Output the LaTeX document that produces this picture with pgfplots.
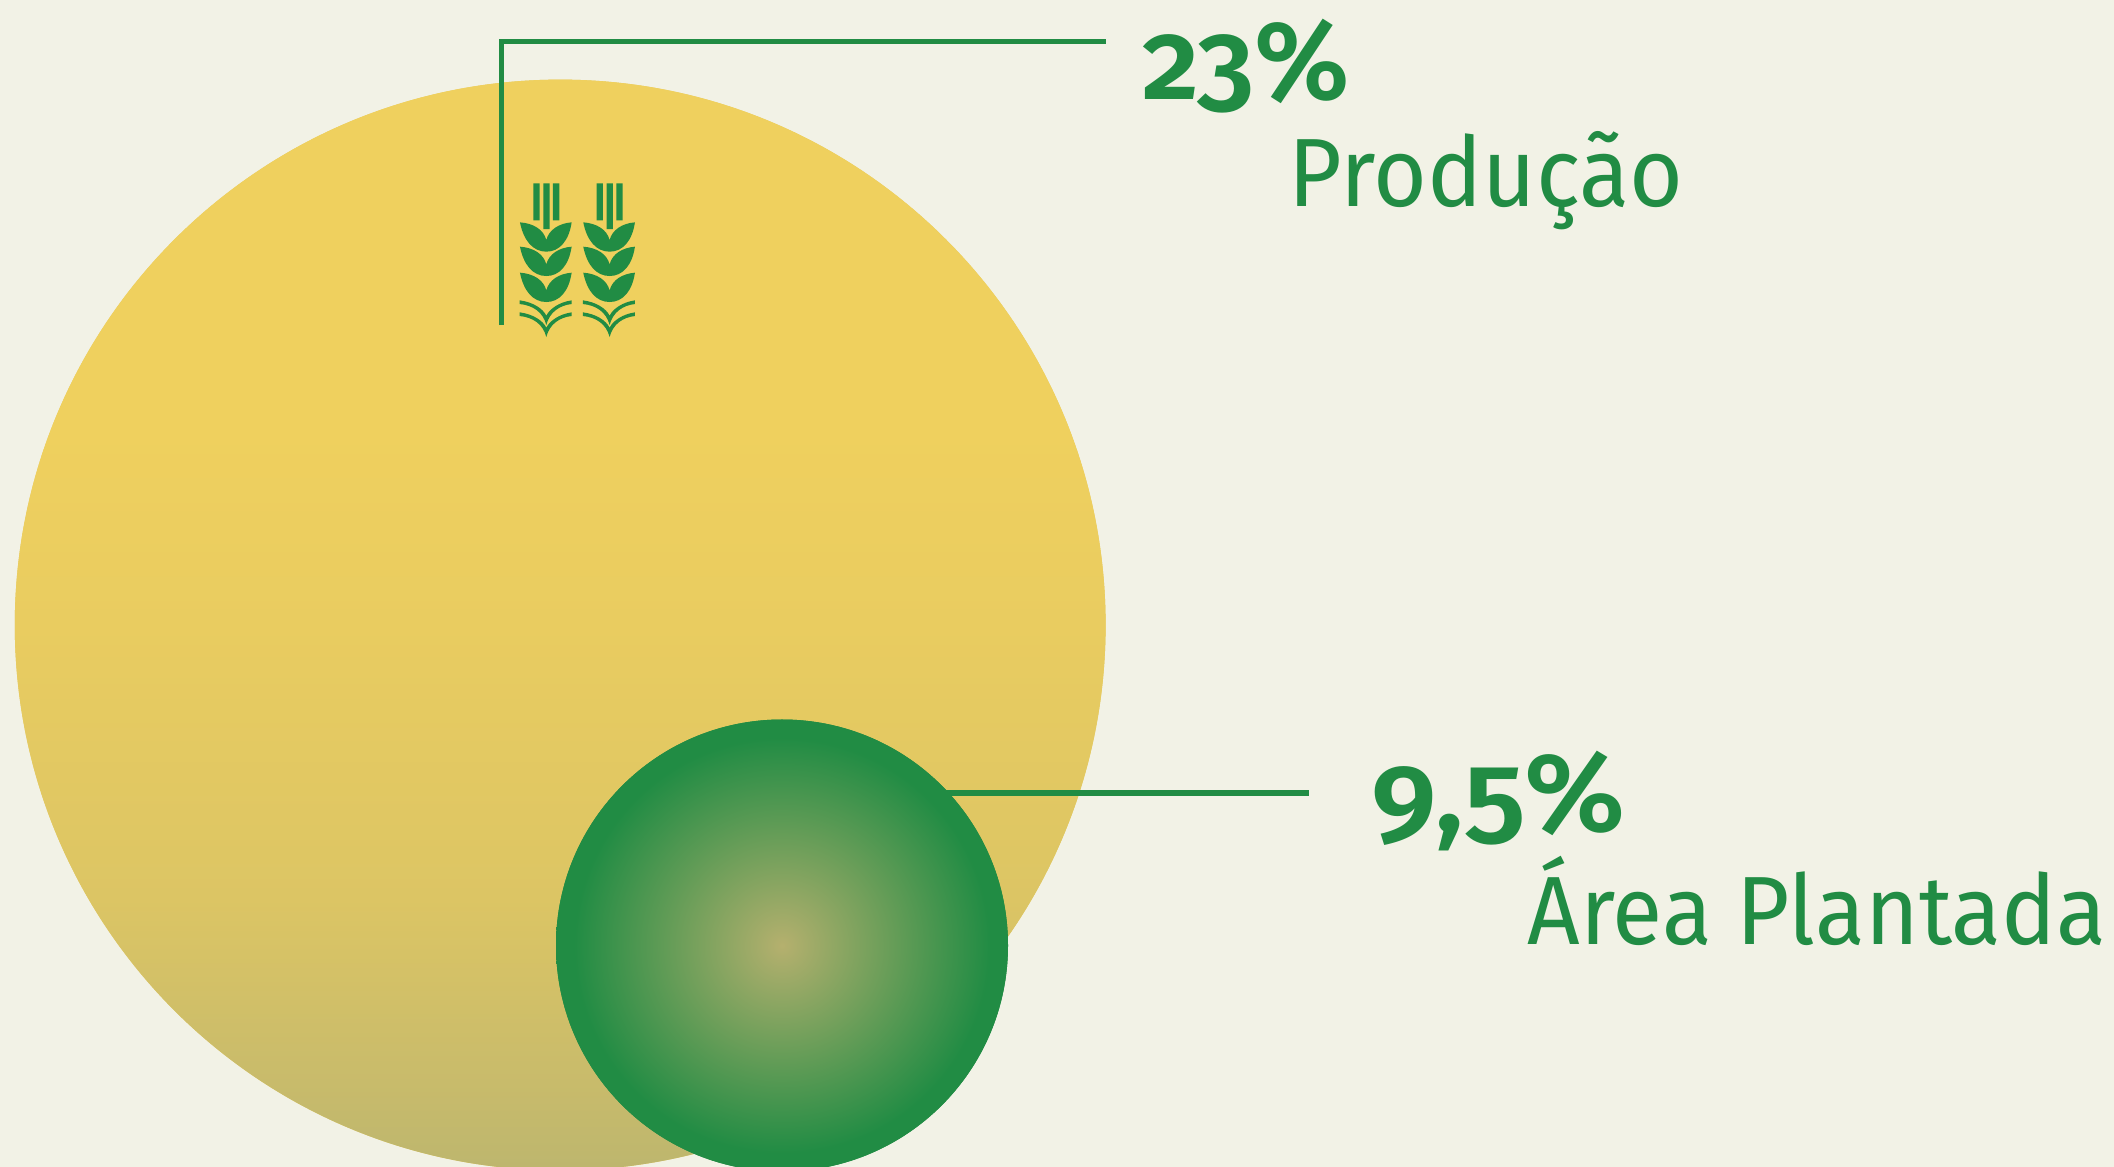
\documentclass[border=0pt]{standalone}
\usepackage{graphicx}
\usepackage{fontspec}
\setmainfont[Numbers=OldStyle]{Fira Sans}
\newfontface\semibold[Numbers=OldStyle]{Fira Sans SemiBold}
\usepackage{pgfplots}
\pgfplotsset{compat=1.18}

\definecolor{bg}{HTML}{F2F2E6}
\definecolor{verde}{HTML}{218C44}
\definecolor{am0}{RGB}{189,182,110}
\definecolor{am1}{RGB}{200,187,107}
\definecolor{am2}{RGB}{220,197,100}
\definecolor{am3}{RGB}{233,204,96}
\definecolor{am4}{RGB}{239,208,94}
\definecolor{centro}{RGB}{181,176,110}

% gradients of the two discs (pgf maps the path's box onto the middle 50bp)
\pgfdeclareverticalshading{discoamarelo}{100bp}{
  color(0bp)=(am0);
  color(25bp)=(am0);
  color(29bp)=(am1);
  color(37.5bp)=(am2);
  color(50bp)=(am3);
  color(59bp)=(am4);
  color(100bp)=(am4)}
\pgfdeclareradialshading{discoverde}{\pgfpointorigin}{
  color(0bp)=(centro);
  color(23bp)=(verde);
  color(50bp)=(verde)}

% a plain disc under each shading closes the flat edge that the shading box leaves
\pgfdeclareplotmark{discoA}{%
  \pgfsetfillcolor{am3}\pgfpathcircle{\pgfpointorigin}{\pgfplotmarksize}\pgfusepath{fill}
  \pgfpathcircle{\pgfpointorigin}{\pgfplotmarksize}\pgfshadepath{discoamarelo}{0}\pgfusepath{discard}}
\pgfdeclareplotmark{discoB}{%
  \pgfsetfillcolor{verde}\pgfpathcircle{\pgfpointorigin}{\pgfplotmarksize}\pgfusepath{fill}
  \pgfpathcircle{\pgfpointorigin}{\pgfplotmarksize}\pgfshadepath{discoverde}{0}\pgfusepath{discard}}

% wheat icon, units are 1/3 px, y downward from the mark position
\def\pq#1#2{\pgfpoint{#1pt}{-(#2)*1pt}}
\def\folhas#1{%
  \pgfpathmoveto{\pq{-79}{#1}}
  \pgfpathcurveto{\pq{-38}{#1+3}}{\pq{-8}{#1+22}}{\pq{0}{#1+53}}
  \pgfpathcurveto{\pq{8}{#1+22}}{\pq{38}{#1+3}}{\pq{76}{#1}}
  \pgfpathcurveto{\pq{68}{#1+55}}{\pq{40}{#1+88}}{\pq{0}{#1+88}}
  \pgfpathcurveto{\pq{-40}{#1+88}}{\pq{-68}{#1+55}}{\pq{-79}{#1}}
  \pgfpathclose}
\def\arco#1{%
  \pgfpathmoveto{\pq{-80}{#1}}
  \pgfpathcurveto{\pq{-40}{#1+5}}{\pq{-10}{#1+25}}{\pq{0}{#1+46}}
  \pgfpathcurveto{\pq{10}{#1+25}}{\pq{40}{#1+5}}{\pq{76}{#1}}
  \pgfpathlineto{\pq{76}{#1+11}}
  \pgfpathcurveto{\pq{40}{#1+15}}{\pq{10}{#1+35}}{\pq{0}{#1+74}}
  \pgfpathcurveto{\pq{-10}{#1+35}}{\pq{-40}{#1+15}}{\pq{-80}{#1+11}}
  \pgfpathclose}
\pgfdeclareplotmark{trigo}{%
  \pgftransformscale{0.16667}
  \pgfsetfillcolor{verde}
  \pgfpathrectanglecorners{\pq{-39}{550}}{\pq{-20}{661}}
  \pgfpathrectanglecorners{\pq{-9}{550}}{\pq{10}{687}}
  \pgfpathrectanglecorners{\pq{20}{550}}{\pq{39}{661}}
  \folhas{667}\folhas{740}\folhas{818}
  \arco{901}\arco{937}
  \pgfusepath{fill}}

\begin{document}
\begin{tikzpicture}
\begin{axis}[
  width=1057pt, height=583.3pt,
  scale only axis,
  xmin=0, xmax=2114,
  ymin=0, ymax=1166,
  y dir=reverse,
  axis lines=none,
  ticks=none,
  clip=true,
  clip marker paths=true,
  axis background/.style={fill=bg},
]
% big disc: producao
\addplot[only marks, mark=discoA, mark size=272.7pt] coordinates {(560.2,624.7)};
% leader to 23%
\addplot[verde, line width=2.75pt, line join=miter, no markers] coordinates {(501.7,325) (501.7,41.5) (1105.5,41.5)};
% icon
\addplot[only marks, mark=trigo, mark size=1pt] coordinates {(546.3,0) (609.6,0)};
% leader to 9,5%
\addplot[verde, line width=2.75pt, no markers] coordinates {(900,792.5) (1309,792.5)};
% small disc: area plantada
\addplot[only marks, mark=discoB, mark size=113pt] coordinates {(782,945)};

\node[anchor=base west, inner sep=0pt, text=verde, font=\fontsize{56}{56}\selectfont\semibold] at (axis cs:1142,99) {23\%};
\node[anchor=base west, inner sep=0pt, text=verde, font=\fontsize{48.5}{48.5}\selectfont] at (axis cs:1288,206) {\resizebox{197.5pt}{\height}{Produção}};
\node[anchor=base west, inner sep=0pt, text=verde, font=\fontsize{56}{56}\selectfont\semibold] at (axis cs:1371,831) {\resizebox{127pt}{\height}{9,5\%}};
\node[anchor=base west, inner sep=0pt, text=verde, font=\fontsize{48.5}{48.5}\selectfont] at (axis cs:1527,944) {\resizebox{289.5pt}{\height}{Área Plantada}};
\end{axis}
\end{tikzpicture}
\end{document}
